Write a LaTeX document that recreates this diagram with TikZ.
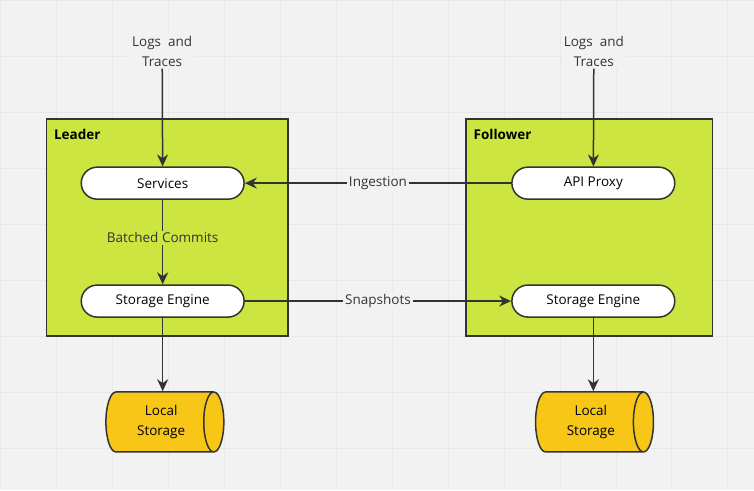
\documentclass[tikz,border=0pt]{standalone}
\usepackage{fontspec}
\setmainfont{Open Sans}
\usetikzlibrary{arrows.meta,positioning,shapes.geometric}
\definecolor{bggray}{HTML}{F2F2F2}
\definecolor{gridgray}{HTML}{E8E8E8}
\definecolor{lime}{HTML}{CDE541}
\definecolor{gold}{HTML}{F8C617}
\definecolor{ink}{HTML}{333333}
\tikzset{
    %Define standard arrow tip
    >={Stealth[length=12pt,width=11pt]},
    %Define style for groups
    group/.style={
           rectangle,
           draw=ink, line width=1.5pt,
           fill=lime,
           minimum height=217pt},
    %Define style for pills
    pill/.style={
           rectangle,
           rounded corners=16pt,
           draw=ink, line width=1.5pt,
           fill=white,
           minimum width=163pt,
           minimum height=32pt,
           font=\fontsize{13.5}{15}\selectfont},
    store/.style={
           cylinder,
           shape aspect=0.5,
           draw=ink, line width=1.5pt,
           fill=gold,
           minimum width=60pt,
           minimum height=118pt,
           align=center,
           font=\fontsize{13.5}{20}\selectfont},
    % Define arrow style
    flow/.style={
           ->,
           ink,
           line width=1.5pt},
    lbl/.style={
           fill=bggray,
           text=ink,
           inner sep=2pt,
           align=center,
           font=\fontsize{13.5}{20}\selectfont}
}
\begin{document}
\begin{tikzpicture}[x=1pt,y=-1pt]
    \fill[bggray] (0,0) rectangle (754,490);
    \draw[gridgray,line width=0.6pt,step=56pt] (0,0) grid (754,490);
    \useasboundingbox (0,0) rectangle (754,490);
 %groups
    \node[group,minimum width=242pt] (leader) at (167,227.5) {};
    \node[group,minimum width=247pt] (follower) at (589.5,227.5) {};
    \node[anchor=north west,font=\fontsize{13.5}{15}\selectfont\bfseries] at ([shift={(5pt,-7pt)}]leader.north west) {Leader};
    \node[anchor=north west,font=\fontsize{13.5}{15}\selectfont\bfseries] at ([shift={(5pt,-7pt)}]follower.north west) {Follower};
 %nodes
    \node[pill] (services) at (162.5,183) {Services};
    \node[pill] (engineL) at (162.5,301) {Storage Engine};
    \node[pill] (proxy) at (593.5,183) {API Proxy};
    \node[pill] (engineR) at (593.5,301) {Storage Engine};
    \node[store] (diskL) at (157,422) {\hspace*{8pt}Local\\\hspace*{8pt}Storage};
    \node[store] (diskR) at (587,422) {\hspace*{8pt}Local\\\hspace*{8pt}Storage};
    \node[lbl] (logsL) at (162,51) {Logs\ \ and\\Traces};
    \node[lbl] (logsR) at (594,51) {Logs\ \ and\\Traces};
 %edges
    \draw[flow] (logsL) -- (services);
    \draw[flow] (logsR) -- (proxy);
    \draw[flow] (services) -- node[lbl,fill=lime,pos=0.45] {Batched Commits} (engineL);
    \draw[flow] (proxy) -- node[lbl] {Ingestion} (services);
    \draw[flow] (engineL) -- node[lbl] {Snapshots} (engineR);
    \draw[flow] (engineL) -- (engineL |- diskL.north);
    \draw[flow] (engineR) -- (engineR |- diskR.north);
  \end{tikzpicture}
\end{document}
